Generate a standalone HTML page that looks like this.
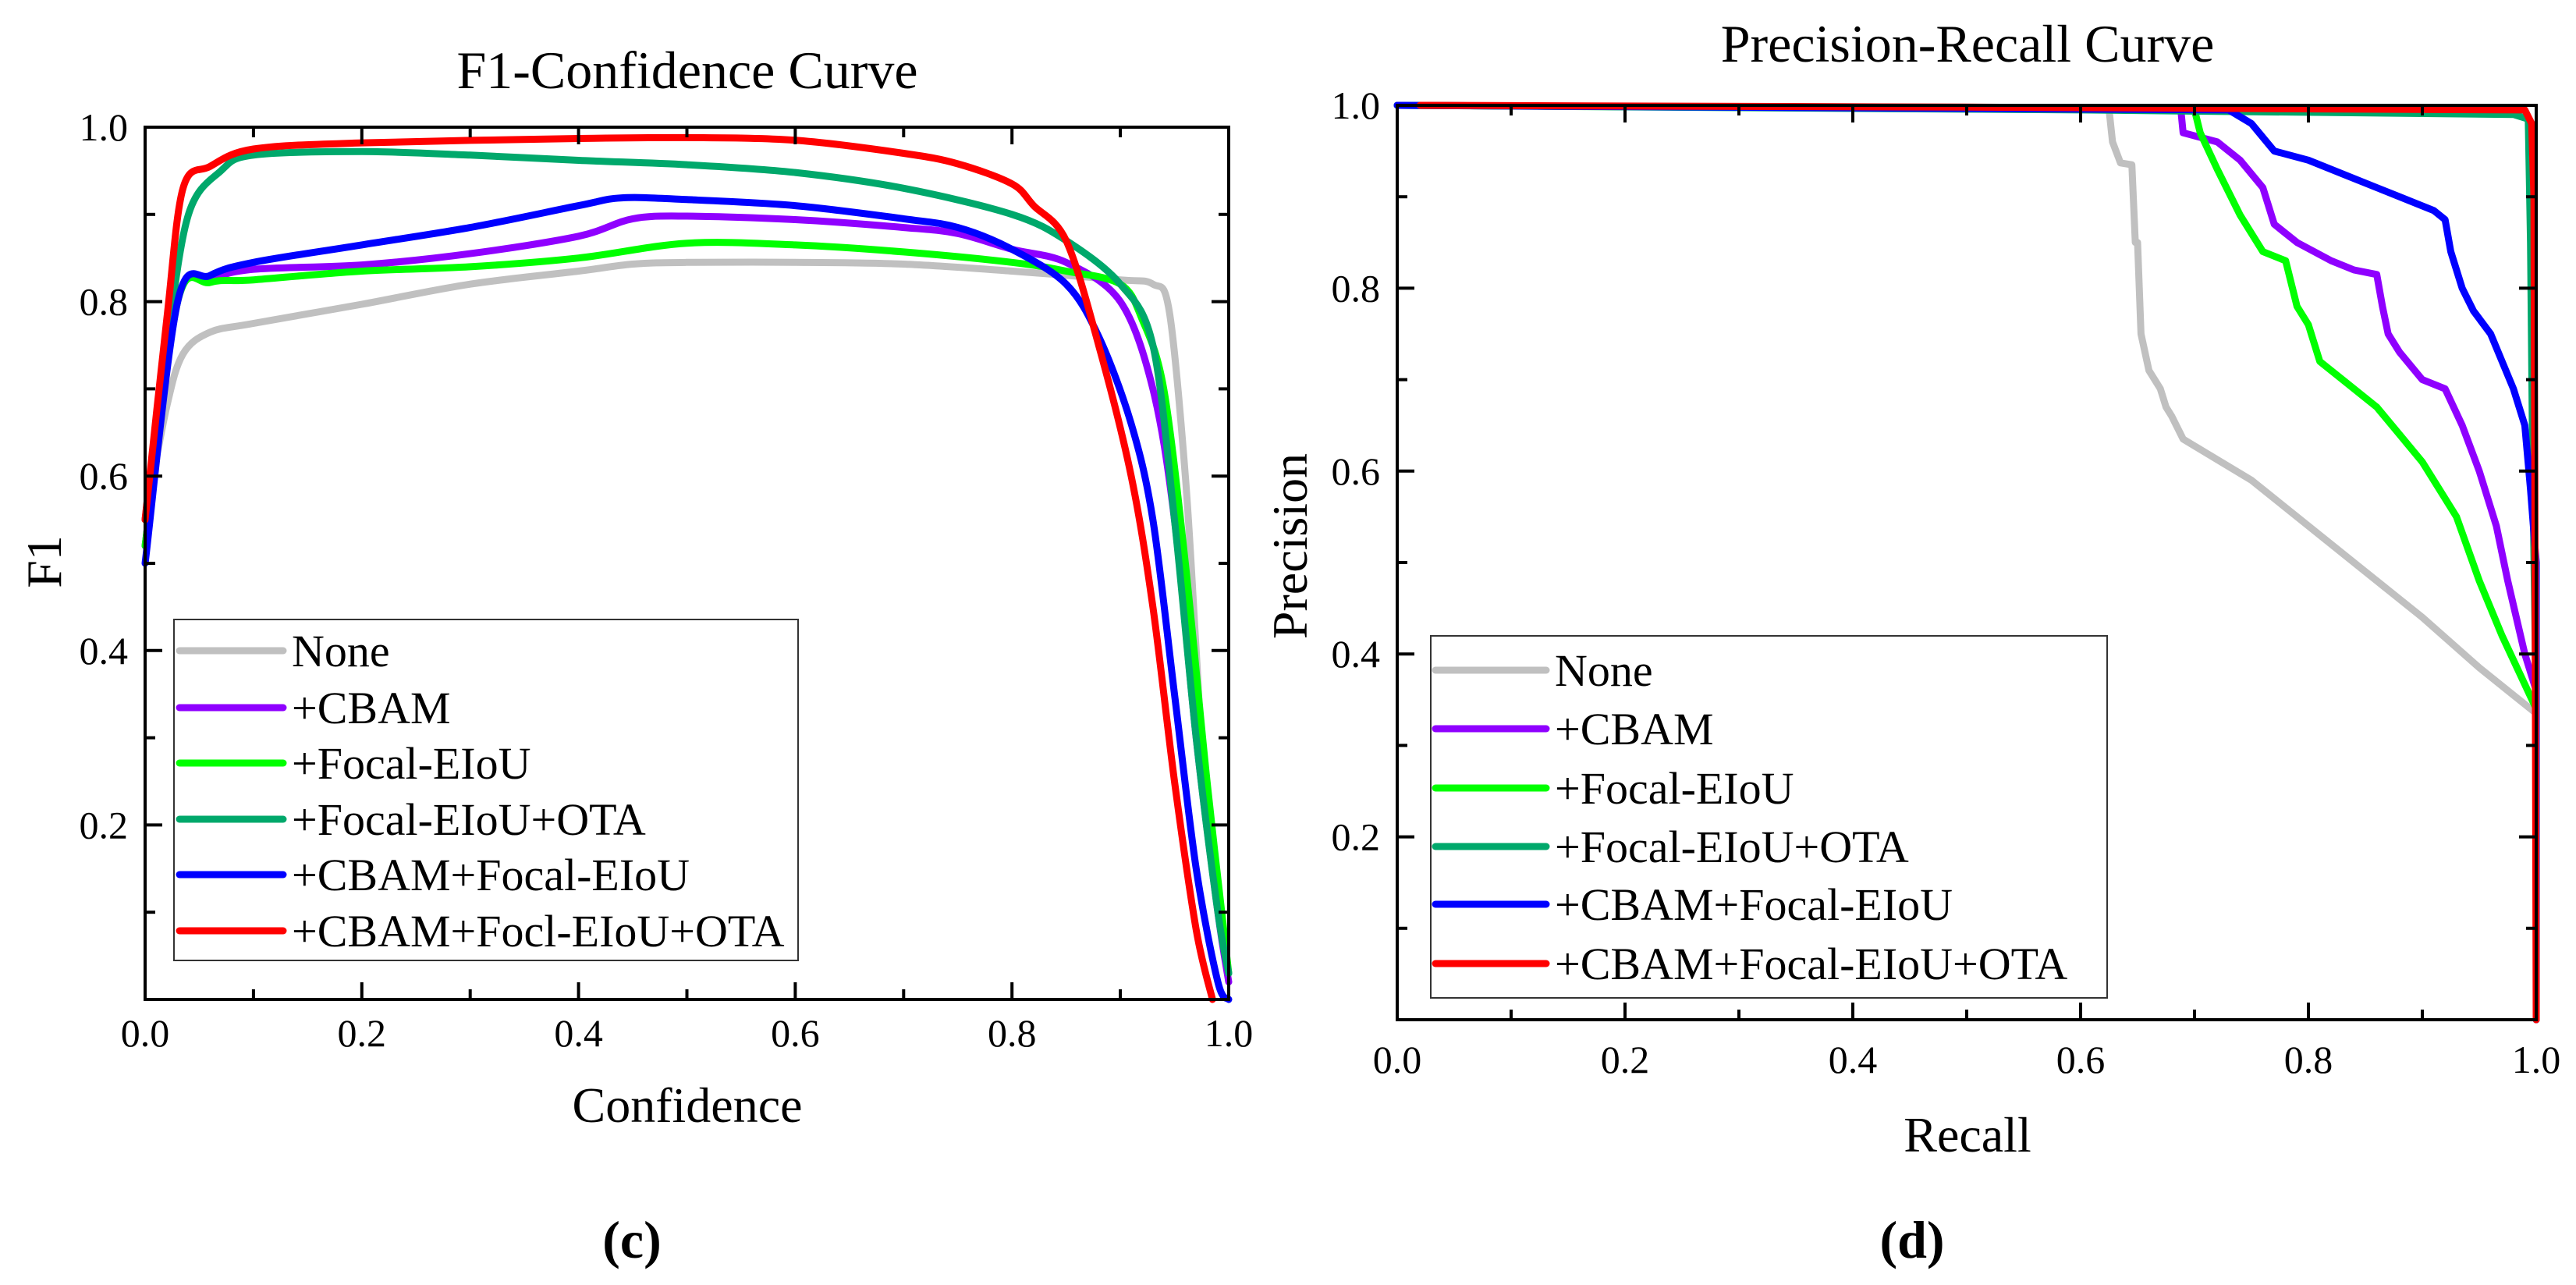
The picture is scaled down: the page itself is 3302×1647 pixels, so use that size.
<!DOCTYPE html>
<html><head><meta charset="utf-8"><style>
html,body{margin:0;padding:0;background:#fff;}
svg{display:block;font-family:"Liberation Serif",serif;}
</style></head><body>
<svg id="chart" width="3302" height="1647" viewBox="0 0 3302 1647" xmlns="http://www.w3.org/2000/svg"></svg>
<script>
// ===== F1-Confidence data =====
const f1Names = ["None","+CBAM","+Focal-EIoU","+Focal-EIoU+OTA","+CBAM+Focal-EIoU","+CBAM+Focl-EIoU+OTA"];
const f1None = [[0,0.55],[0.02,0.68],[0.035,0.74],[0.06,0.765],[0.1,0.775],[0.2,0.797],[0.3,0.82],[0.4,0.835],[0.45,0.843],[0.5,0.845],[0.6,0.845],[0.7,0.843],[0.8,0.835],[0.9,0.825],[0.93,0.82],[0.945,0.79],[0.96,0.6],[0.97,0.4],[0.98,0.2],[1.0,0.03]];
const f1Cbam = [[0,0.52],[0.03,0.8],[0.06,0.825],[0.1,0.837],[0.2,0.842],[0.3,0.855],[0.4,0.875],[0.45,0.895],[0.5,0.898],[0.6,0.894],[0.7,0.885],[0.75,0.878],[0.8,0.86],[0.85,0.845],[0.9,0.8],[0.93,0.7],[0.95,0.55],[0.97,0.3],[0.99,0.1],[1.0,0.02]];
const f1Focal = [[0,0.52],[0.03,0.8],[0.06,0.822],[0.1,0.825],[0.2,0.835],[0.3,0.84],[0.4,0.85],[0.5,0.867],[0.6,0.865],[0.7,0.857],[0.8,0.845],[0.85,0.835],[0.9,0.82],[0.92,0.78],[0.94,0.7],[0.96,0.5],[0.98,0.25],[1.0,0.03]];
const f1FocalOta = [[0,0.55],[0.02,0.75],[0.04,0.9],[0.07,0.95],[0.1,0.968],[0.2,0.972],[0.3,0.968],[0.4,0.962],[0.5,0.957],[0.6,0.948],[0.7,0.93],[0.8,0.9],[0.85,0.87],[0.9,0.82],[0.93,0.75],[0.95,0.55],[0.97,0.3],[0.99,0.1],[1.0,0.03]];
const f1CbamFocal = [[0,0.5],[0.03,0.8],[0.06,0.83],[0.1,0.845],[0.2,0.865],[0.3,0.885],[0.4,0.91],[0.44,0.919],[0.5,0.917],[0.6,0.91],[0.7,0.895],[0.75,0.885],[0.8,0.86],[0.85,0.82],[0.88,0.76],[0.91,0.66],[0.93,0.55],[0.95,0.35],[0.97,0.15],[0.99,0.02],[1.0,0.0]];
const f1All = [[0,0.55],[0.02,0.78],[0.035,0.93],[0.06,0.955],[0.1,0.975],[0.2,0.982],[0.4,0.987],[0.5,0.988],[0.6,0.985],[0.7,0.97],[0.75,0.958],[0.8,0.935],[0.82,0.91],[0.85,0.87],[0.88,0.75],[0.91,0.6],[0.93,0.45],[0.95,0.25],[0.97,0.08],[0.985,0]];
// ===== Precision-Recall data =====
const prNames = ["None","+CBAM","+Focal-EIoU","+Focal-EIoU+OTA","+CBAM+Focal-EIoU","+CBAM+Focal-EIoU+OTA"];
const prNone = [[0,1],[0.625,0.995],[0.628,0.96],[0.635,0.937],[0.645,0.935],[0.648,0.85],[0.65,0.85],[0.653,0.75],[0.66,0.71],[0.67,0.69],[0.675,0.67],[0.68,0.66],[0.69,0.635],[0.75,0.59],[0.8,0.54],[0.85,0.49],[0.9,0.44],[0.95,0.385],[1.0,0.335],[1.0,0]];
const prCbam = [[0,1],[0.688,0.995],[0.69,0.97],[0.72,0.96],[0.74,0.94],[0.76,0.91],[0.77,0.87],[0.79,0.85],[0.82,0.83],[0.84,0.82],[0.86,0.815],[0.865,0.78],[0.87,0.75],[0.88,0.73],[0.9,0.7],[0.92,0.69],[0.935,0.65],[0.95,0.6],[0.965,0.54],[0.975,0.48],[0.99,0.4],[1.0,0.36],[1.0,0]];
const prFocal = [[0,1],[0.7,0.995],[0.705,0.97],[0.72,0.93],[0.74,0.88],[0.76,0.84],[0.78,0.83],[0.79,0.78],[0.8,0.76],[0.81,0.72],[0.83,0.7],[0.86,0.67],[0.88,0.64],[0.9,0.61],[0.91,0.59],[0.93,0.55],[0.95,0.48],[0.97,0.42],[1.0,0.34],[1.0,0]];
const prFocalOta = [[0,1],[0.6,0.995],[0.98,0.99],[0.993,0.985],[0.995,0.85],[0.997,0.6],[1.0,0.33],[1.0,0]];
const prCbamFocal = [[0,1],[0.73,0.995],[0.75,0.98],[0.77,0.95],[0.8,0.94],[0.83,0.925],[0.86,0.91],[0.88,0.9],[0.91,0.885],[0.92,0.875],[0.925,0.84],[0.935,0.8],[0.945,0.775],[0.96,0.75],[0.97,0.72],[0.98,0.69],[0.99,0.65],[0.995,0.58],[1.0,0.5],[1.0,0]];
const prAll = [[0.02,1],[0.5,0.998],[0.99,0.995],[0.996,0.98],[0.998,0.9],[0.999,0.5],[1.0,0]];
const tickLabels = ["0.0","0.2","0.4","0.6","0.8","1.0"];
const yTickLabels = ["0.2","0.4","0.6","0.8","1.0"];
const colors = ["#c0c0c0","#8f00ff","#00ff00","#00a86b","#0000ff","#ff0000"];

const NS="http://www.w3.org/2000/svg";
const svg=document.getElementById('chart');
function mk(tag,attrs,parent){const e=document.createElementNS(NS,tag);for(const k in attrs)e.setAttribute(k,attrs[k]);(parent||svg).appendChild(e);return e;}
function txt(s,attrs,parent){const e=mk('text',attrs,parent);e.textContent=s;return e;}
function smoothPath(pts){
  let d='M'+pts[0][0].toFixed(1)+','+pts[0][1].toFixed(1);
  const t=0.16;
  for(let i=0;i<pts.length-1;i++){
    const p0=pts[Math.max(0,i-1)],p1=pts[i],p2=pts[i+1],p3=pts[Math.min(pts.length-1,i+2)];
    const c1=[p1[0]+(p2[0]-p0[0])*t,p1[1]+(p2[1]-p0[1])*t];
    const c2=[p2[0]-(p3[0]-p1[0])*t,p2[1]-(p3[1]-p1[1])*t];
    d+=` C${c1[0].toFixed(1)},${c1[1].toFixed(1)} ${c2[0].toFixed(1)},${c2[1].toFixed(1)} ${p2[0].toFixed(1)},${p2[1].toFixed(1)}`;
  }
  return d;
}

function panel(cfg){
  const g=mk('g',{});
  
  
  const xS=v=>cfg.x0+(cfg.x1-cfg.x0)*v;
  const yS=v=>cfg.y0+(cfg.y1-cfg.y0)*v;
  cfg.series.forEach((s,i)=>{
    const px=s.map(p=>[xS(p[0]),yS(p[1])]);
    const d=cfg.smooth?smoothPath(px):px.map((p,j)=>(j?'L':'M')+p[0].toFixed(1)+','+p[1].toFixed(1)).join(' ');
    const p=mk('path',{d:d,fill:'none',stroke:colors[i],'stroke-width':9,'stroke-linejoin':'round','stroke-linecap':'round'},g);
    
    
  });
  const fr=mk('rect',{x:cfg.x0,y:cfg.y1,width:cfg.x1-cfg.x0,height:cfg.y0-cfg.y1,fill:'none',stroke:'#000','stroke-width':4},g);
  
  
  for(let k=1;k<10;k++){
    const v=k/10, L=(k%2==0)?22:13;
    mk('line',{x1:xS(v),x2:xS(v),y1:cfg.y0,y2:cfg.y0-L,stroke:'#000','stroke-width':4},g);
    mk('line',{x1:xS(v),x2:xS(v),y1:cfg.y1,y2:cfg.y1+L,stroke:'#000','stroke-width':4},g);
    mk('line',{x1:cfg.x0,x2:cfg.x0+L,y1:yS(v),y2:yS(v),stroke:'#000','stroke-width':4},g);
    mk('line',{x1:cfg.x1,x2:cfg.x1-L,y1:yS(v),y2:yS(v),stroke:'#000','stroke-width':4},g);
  }
  tickLabels.forEach((t,i)=>{
    const e=txt(t,{x:xS(i/5),y:cfg.xlabY,'font-size':50,'text-anchor':'middle'},g);
    
    
  });
  yTickLabels.forEach((t,i)=>{
    const e=txt(t,{x:cfg.x0-22,y:yS((i+1)/5)+17,'font-size':50,'text-anchor':'end'},g);
    
    
  });
  let e=txt(cfg.title,{x:cfg.titleX,y:cfg.titleY,'font-size':68,'text-anchor':'middle'},g);
  
  
  e=txt(cfg.xlab,{x:cfg.titleX,y:cfg.xAxisY,'font-size':64,'text-anchor':'middle'},g);
  
  
  e=txt(cfg.ylab,{x:0,y:0,'font-size':64,'text-anchor':'middle',transform:`translate(${cfg.yLabX},${cfg.yLabY}) rotate(-90)`},g);
  
  
  e=txt(cfg.sub,{x:cfg.subX,y:cfg.subY,'font-size':68,'font-weight':'bold','text-anchor':'middle'},g);
  
  
  const lg=mk('g',{},g);
  
  
  const L=cfg.leg;
  mk('rect',{x:L.x,y:L.y,width:L.w,height:L.h,fill:'#fff',stroke:'#333','stroke-width':2},lg);
  cfg.names.forEach((n,i)=>{
    const yy=L.rows[i];
    const ent=mk('g',{},lg);
    
    
    mk('line',{x1:L.lx1,x2:L.lx2,y1:yy,y2:yy,stroke:colors[i],'stroke-width':9,'stroke-linecap':'round'},ent);
    txt(n,{x:L.tx,y:yy+20,'font-size':58},ent);
  });
}

panel({id:'f1',smooth:true,x0:186,x1:1575,y0:1281,y1:163,xlabY:1341,title:'F1-Confidence Curve',titleX:881,titleY:113,
  xlab:'Confidence',xAxisY:1438,ylab:'F1',yLabX:78,yLabY:720,sub:'(c)',subX:810,subY:1612,
  series:[f1None,f1Cbam,f1Focal,f1FocalOta,f1CbamFocal,f1All],names:f1Names,
  leg:{x:223,y:794,w:800,h:437,rows:[834,907,978,1050,1121,1193],lx1:230,lx2:363,tx:374}});
panel({id:'pr',smooth:false,x0:1791,x1:3251,y0:1307,y1:135,xlabY:1375,title:'Precision-Recall Curve',titleX:2522,titleY:79,
  xlab:'Recall',xAxisY:1476,ylab:'Precision',yLabX:1675,yLabY:700,sub:'(d)',subX:2451,subY:1612,
  series:[prNone,prCbam,prFocal,prFocalOta,prCbamFocal,prAll],names:prNames,
  leg:{x:1834,y:815,w:867,h:464,rows:[859,934,1010,1085,1159,1235],lx1:1840,lx2:1982,tx:1993}});
</script>
</body></html>
